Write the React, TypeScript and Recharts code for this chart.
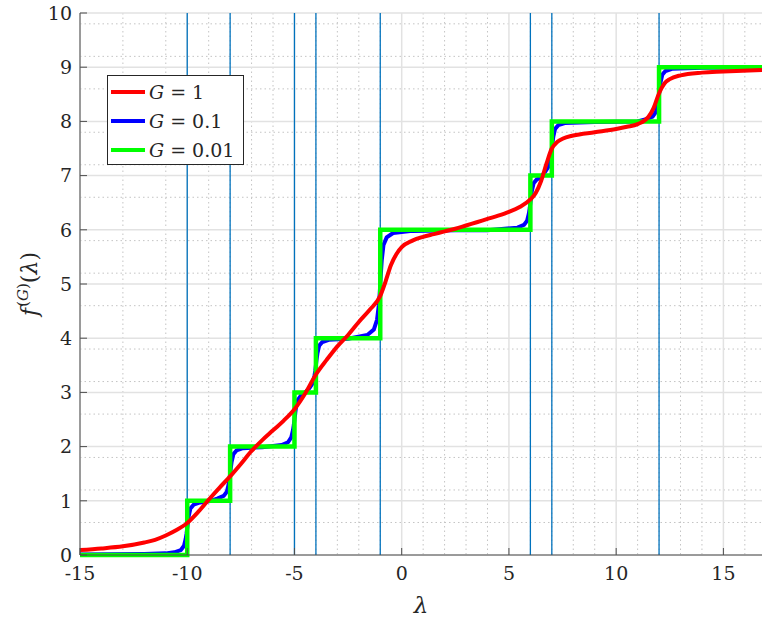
import { CartesianGrid, Legend, Line, LineChart, ReferenceLine, XAxis, YAxis } from "recharts"

// eigenvalues marked by the thin vertical lines
const eigenvalues = [-10, -8, -5, -4, -1, 6, 7, 12]

const xTicks = [-15, -10, -5, 0, 5, 10, 15]
const yTicks = [0, 1, 2, 3, 4, 5, 6, 7, 8, 9, 10]
const xMinor = Array.from({ length: 32 }, (_, i) => i - 15).filter((v) => v % 5 !== 0)
const yMinor = Array.from({ length: 51 }, (_, i) => i / 5).filter((v) => !Number.isInteger(v))

// G = 1
const redPoints: [number, number][] = [
  [-15, 0.09], [-14, 0.12], [-13, 0.16], [-12, 0.23], [-11.5, 0.28], [-11, 0.36],
  [-10.5, 0.46], [-10, 0.59], [-9.5, 0.79], [-9, 1.02], [-8.5, 1.24], [-8, 1.45],
  [-7.5, 1.68], [-7, 1.92], [-6.5, 2.12], [-6, 2.3], [-5.5, 2.48], [-5, 2.69],
  [-4.5, 2.98], [-4, 3.33], [-3.5, 3.6], [-3, 3.85], [-2.5, 4.06], [-2, 4.3],
  [-1.5, 4.52], [-1, 4.78], [-0.75, 5.05], [-0.5, 5.35], [-0.25, 5.55], [0, 5.68],
  [0.5, 5.8], [1, 5.87], [1.5, 5.92], [2, 5.97], [2.5, 6.02], [3, 6.08], [3.5, 6.14],
  [4, 6.2], [4.5, 6.26], [5, 6.33], [5.5, 6.42], [6, 6.56], [6.25, 6.68], [6.5, 6.9],
  [6.75, 7.22], [7, 7.5], [7.25, 7.62], [7.5, 7.68], [8, 7.74], [9, 7.8], [10, 7.86],
  [10.5, 7.9], [11, 7.95], [11.5, 8.08], [11.75, 8.25], [12, 8.52], [12.25, 8.7],
  [12.5, 8.78], [13, 8.85], [14, 8.9], [15, 8.92], [16.8, 8.95],
]

// G = 0.1
const bluePoints: [number, number][] = [
  [-15, 0.01], [-12, 0.02], [-11, 0.03],
  [-10.6, 0.05], [-10.3, 0.09], [-10.15, 0.17], [-10.07, 0.3], [-10.03, 0.4], [-10, 0.5],
  [-9.97, 0.6], [-9.93, 0.72], [-9.85, 0.86], [-9.7, 0.93], [-9.4, 0.97], [-9, 0.99],
  [-8.6, 1.04], [-8.3, 1.09], [-8.15, 1.17], [-8.07, 1.3], [-8.03, 1.4], [-8, 1.5],
  [-7.97, 1.6], [-7.93, 1.72], [-7.85, 1.86], [-7.7, 1.93], [-7.4, 1.97], [-6.5, 1.99],
  [-5.6, 2.03], [-5.3, 2.08], [-5.15, 2.17], [-5.07, 2.3], [-5.03, 2.4], [-5, 2.5],
  [-4.97, 2.6], [-4.93, 2.72], [-4.85, 2.86], [-4.7, 2.94], [-4.5, 3.0],
  [-4.3, 3.08], [-4.15, 3.17], [-4.07, 3.3], [-4.03, 3.4], [-4, 3.5],
  [-3.97, 3.6], [-3.93, 3.72], [-3.85, 3.86], [-3.7, 3.93], [-3.4, 3.97], [-2.5, 3.99],
  [-1.6, 4.06], [-1.3, 4.16], [-1.15, 4.34], [-1.07, 4.6], [-1.03, 4.8], [-1, 5],
  [-0.97, 5.2], [-0.93, 5.44], [-0.85, 5.72], [-0.7, 5.86], [-0.4, 5.94], [0.5, 5.98],
  [2.5, 5.99], [4, 5.99],
  [5.4, 6.04], [5.7, 6.09], [5.85, 6.17], [5.93, 6.3], [5.97, 6.4], [6, 6.5],
  [6.03, 6.6], [6.07, 6.72], [6.15, 6.86], [6.3, 6.93], [6.5, 6.97],
  [6.7, 7.08], [6.85, 7.17], [6.93, 7.3], [6.97, 7.4], [7, 7.5],
  [7.03, 7.6], [7.07, 7.72], [7.15, 7.86], [7.3, 7.93], [7.6, 7.97], [9, 7.99], [11, 8.0],
  [11.4, 8.04], [11.7, 8.09], [11.85, 8.17], [11.93, 8.3], [11.97, 8.4], [12, 8.5],
  [12.03, 8.6], [12.07, 8.72], [12.15, 8.86], [12.3, 8.93], [12.6, 8.97], [14, 8.99], [16.8, 9.0],
]

// G = 0.01
const greenPoints: [number, number][] = [
  [-15, 0], [-10, 0], [-10, 1], [-8, 1], [-8, 2], [-5, 2], [-5, 3], [-4, 3], [-4, 4],
  [-1, 4], [-1, 6], [6, 6], [6, 7], [7, 7], [7, 8], [12, 8], [12, 9], [16.8, 9],
]

const legendLabels = ["1", "0.1", "0.01"]
const legendColors = ["#ff0000", "#0000ff", "#00ff00"]

const toRows = (pts: [number, number][]) => pts.map(([x, y]) => ({ x, y }))

const serif = "DejaVu Serif"
const axisColor = "#4d4d4d"
const textColor = "#262626"

function LegendBox() {
  return (
    <div
      style={{
        width: 137,
        height: 90,
        border: "1px solid #262626",
        background: "#fff",
        fontFamily: serif,
        fontSize: 19,
        color: textColor,
        position: "relative",
        boxSizing: "border-box",
      }}
    >
      {legendLabels.map((label, i) => (
        <div
          key={label}
          style={{ position: "absolute", left: 2, top: 2 + i * 29, height: 27, display: "flex", alignItems: "center" }}
        >
          <svg width={36} height={8} style={{ marginRight: 3 }}>
            <line x1={1} y1={4} x2={35} y2={4} stroke={legendColors[i]} strokeWidth={4} />
          </svg>
          <span style={{ whiteSpace: "nowrap" }}>
            <i>G</i>
            <span style={{ margin: "0 6px" }}>=</span>
            {label}
          </span>
        </div>
      ))}
    </div>
  )
}

function YTitle() {
  return (
    <text
      transform="translate(37, 284) rotate(-90)"
      textAnchor="middle"
      fontSize={22}
      fill={textColor}
      style={{ fontFamily: serif }}
    >
      <tspan fontStyle="italic">f</tspan>
      <tspan dx={1} dy={-9} fontSize={15}>(<tspan fontStyle="italic">G</tspan>)</tspan>
      <tspan dy={9}>(<tspan fontStyle="italic">λ</tspan>)</tspan>
    </text>
  )
}

const tickStyle = { fontSize: 19, fill: textColor, fontFamily: serif }

export default function App() {
  return (
    <div style={{ position: "absolute", left: 0, top: 0, width: 762, height: 621, background: "#fff" }}>
      <LineChart width={762} height={621} margin={{ top: 13, right: 0, bottom: 0, left: 0 }}>
        <CartesianGrid verticalValues={xMinor} horizontalValues={yMinor} stroke="#c4c4c4" strokeDasharray="1.5 3" />
        <CartesianGrid verticalValues={xTicks} horizontalValues={yTicks} stroke="#e2e2e2" strokeWidth={1.5} />
        <XAxis
          dataKey="x"
          type="number"
          domain={[-15, 16.8]}
          ticks={xTicks}
          allowDataOverflow
          height={66}
          tickSize={-7}
          tickMargin={19}
          stroke={axisColor}
          tick={tickStyle}
          label={{ value: "λ", position: "insideBottom", offset: 8, fontSize: 23, fontStyle: "italic", fill: textColor, fontFamily: serif }}
        />
        <XAxis
          xAxisId="top"
          dataKey="x"
          type="number"
          orientation="top"
          domain={[-15, 16.8]}
          ticks={xTicks}
          allowDataOverflow
          height={0}
          tickSize={-7}
          tick={false}
          stroke={axisColor}
        />
        <YAxis
          type="number"
          domain={[0, 10]}
          ticks={yTicks}
          width={80}
          tickSize={-7}
          tickMargin={15}
          stroke={axisColor}
          tick={tickStyle}
          label={{ content: () => <YTitle /> }}
        />
        <YAxis
          yAxisId="right"
          orientation="right"
          type="number"
          domain={[0, 10]}
          ticks={yTicks}
          width={0}
          tickSize={-7}
          tick={false}
          stroke={axisColor}
        />
        {eigenvalues.map((v) => (
          <ReferenceLine key={v} x={v} stroke="#0072BD" strokeWidth={1.3} />
        ))}
        <Line data={toRows(bluePoints)} dataKey="y" type="linear" stroke={legendColors[1]} strokeWidth={4} dot={false} isAnimationActive={false} />
        <Line data={toRows(greenPoints)} dataKey="y" type="linear" stroke={legendColors[2]} strokeWidth={4.5} dot={false} isAnimationActive={false} />
        <Line data={toRows(redPoints)} dataKey="y" type="monotone" stroke={legendColors[0]} strokeWidth={4} dot={false} isAnimationActive={false} />
        <Legend
          layout="vertical"
          align="center"
          verticalAlign="middle"
          wrapperStyle={{ left: 107, top: 75, width: 137, height: 90 }}
          content={() => <LegendBox />}
        />
      </LineChart>
    </div>
  )
}
